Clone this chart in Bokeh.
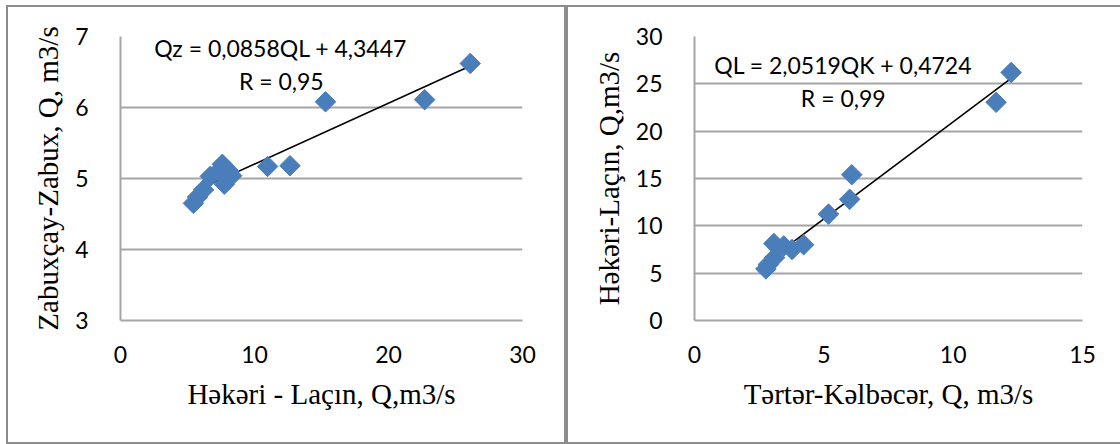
import numpy as np
from bokeh.plotting import figure
from bokeh.layouts import row, column
from bokeh.models import Div, Label, FixedTicker
from bokeh.embed import file_html
from bokeh.resources import INLINE

# Hakari at Lachin (x) vs Zabukhchay at Zabukh (y), discharge m3/s
hakari_lachin = [5.44, 5.75, 6.2, 6.7, 7.4, 7.6, 7.75, 8.1, 8.3, 10.98, 12.65, 15.3, 22.7, 26.1]
zabuxcay_zabux = [4.65, 4.74, 4.84, 5.03, 5.12, 5.2, 4.92, 5.1, 5.04, 5.17, 5.18, 6.08, 6.11, 6.62]

# Tartar at Kalbajar (x) vs Hakari at Lachin (y), discharge m3/s
tartar_kelbecer = [2.76, 2.85, 3.1, 3.07, 3.45, 3.77, 4.22, 5.18, 6.0, 6.08, 11.66, 12.24]
hakari_lachin_2 = [5.45, 5.9, 6.65, 8.13, 7.88, 7.5, 8.0, 11.24, 12.8, 15.4, 23.05, 26.2]

# regression coefficients (slope, intercept) and correlation
fit_left = (0.0858, 4.3447)
fit_right = (2.0519, 0.4724)
eq_left = "Qz = 0,0858QL + 4,3447"
r_left = "R = 0,95"
eq_right = "QL = 2,0519QK + 0,4724"
r_right = "R = 0,99"

left_xticks = [0, 10, 20, 30]
left_yticks = [3, 4, 5, 6, 7]
right_xticks = [0, 5, 10, 15]
right_yticks = [0, 5, 10, 15, 20, 25, 30]

GRID = "#a6a6a6"
BORDER = "#8c8c8c"
MARK = "#4a7ebb"
TICK_FONT = "Lato"
TITLE_FONT = "Liberation Serif"


def panel(x, y, fit, eq, rtext, eq_pos, r_pos, xr, yr, xt, yt, xlabel, ylabel,
          width, min_left, min_right):
    p = figure(width=width, height=435, x_range=xr, y_range=yr,
               output_backend="svg", toolbar_location=None,
               min_border_left=min_left, min_border_right=min_right,
               min_border_top=29, min_border_bottom=122)
    p.outline_line_color = None
    p.background_fill_color = "white"
    p.border_fill_color = "white"

    p.xaxis.ticker = FixedTicker(ticks=xt)
    p.yaxis.ticker = FixedTicker(ticks=yt)
    for ax in (p.xaxis[0], p.yaxis[0]):
        ax.axis_line_color = GRID
        ax.axis_line_width = 2
        ax.major_tick_line_color = None
        ax.minor_tick_line_color = None
        ax.major_label_text_font = TICK_FONT
        ax.major_label_text_font_size = "23px"
        ax.major_label_text_color = "black"
        ax.axis_label_text_font = TITLE_FONT
        ax.axis_label_text_font_size = "29px"
        ax.axis_label_text_font_style = "normal"
        ax.axis_label_text_color = "black"
    p.xaxis.major_label_standoff = 19
    p.yaxis.major_label_standoff = 26
    p.xaxis.axis_label_standoff = 12
    p.yaxis.axis_label_standoff = 8
    p.xaxis.axis_label = xlabel
    p.yaxis.axis_label = ylabel

    p.xgrid.grid_line_color = None
    p.ygrid.grid_line_color = GRID
    p.ygrid.grid_line_width = 2

    # linear trend over the observed range
    xs = np.array([min(x), max(x)])
    p.line(xs, fit[0] * xs + fit[1], line_color="black", line_width=1.6)

    p.scatter(x, y, marker="square", angle=np.pi / 4, size=14.5,
              fill_color=MARK, line_color=MARK)

    for txt, pos in ((eq, eq_pos), (rtext, r_pos)):
        p.add_layout(Label(x=pos[0], y=pos[1], text=txt, text_align="center",
                           text_baseline="middle", text_font=TICK_FONT,
                           text_font_size="23px", text_color="black"))
    return p


p1 = panel(hakari_lachin, zabuxcay_zabux, fit_left, eq_left, r_left,
           (11.95, 6.845), (12.0, 6.38), (0, 30), (3, 7),
           left_xticks, left_yticks,
           "Həkəri - Laçın, Q,m3/s", "Zabuxçay-Zabux, Q, m3/s",
           556, 112, 42)
p2 = panel(tartar_kelbecer, hakari_lachin_2, fit_right, eq_right, r_right,
           (5.75, 27.0), (5.75, 23.5), (0, 15), (0, 30),
           right_xticks, right_yticks,
           "Tərtər-Kəlbəcər, Q, m3/s", "Həkəri-Laçın, Q,m3/s",
           552, 126, 38)


def bar(w, h):
    return Div(width=w, height=h, margin=0, styles={"background-color": BORDER})


layout = column(
    bar(1114, 2),
    row(bar(2, 435), p1, bar(4, 435), p2, spacing=0, margin=0),
    bar(1114, 2),
    spacing=0, margin=(5, 0, 0, 6),
)

open("out.html", "w").write(file_html(layout, INLINE))
